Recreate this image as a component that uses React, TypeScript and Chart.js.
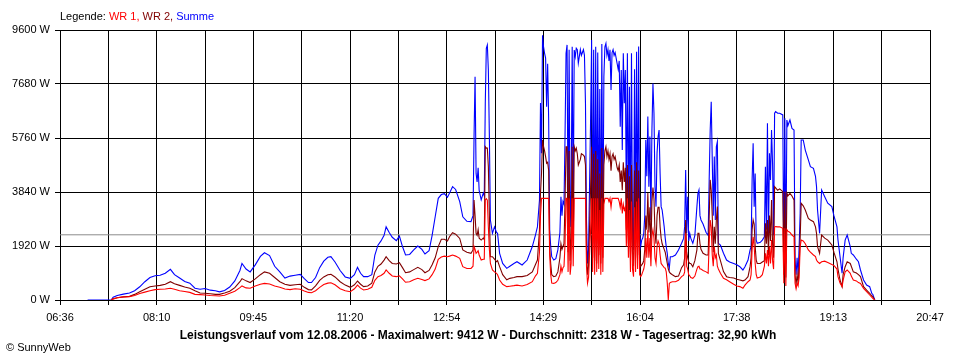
import { useEffect, useRef } from "react";
import { Chart, registerables } from "chart.js";

Chart.register(...registerables);

// time of day in minutes after midnight
const minutes = [
  423, 435, 446, 448, 452, 458, 464, 469, 474, 479, 484, 489, 494, 499, 504, 508, 513, 518, 523, 528,
  533, 538, 543, 548, 552, 557, 562, 567, 572, 574, 578, 582, 587, 592, 596, 601, 606, 611, 616, 621,
  626, 631, 635, 639, 642, 646, 650, 654, 658, 661, 665, 670, 675, 680, 684, 687, 690, 693, 697, 701,
  704, 707, 710, 713, 715, 718, 721, 725, 728, 731, 734, 738, 742, 746, 750, 753, 757, 760, 763, 766,
  769, 772, 775, 777, 780, 783, 787, 790, 794, 798, 800, 801, 802, 803, 804, 805, 806, 808, 810, 811,
  812, 813, 814, 815, 816, 817, 819, 821, 823, 824, 826, 829, 833, 836, 840, 843, 848, 853, 858, 861,
  863, 865, 866, 867, 868, 869, 870, 871, 872, 873, 874, 875, 876, 877, 879, 881, 883, 885, 886, 887,
  888, 889, 890, 891, 892, 893, 894, 895, 896, 897, 898, 899, 900, 901, 902, 903, 905, 906, 908, 909,
  910, 911, 912, 913, 915, 916, 917, 918, 919, 920, 921, 922, 923, 924, 925, 926, 927, 928, 929, 930,
  931, 932, 933, 934, 935, 936, 937, 938, 939, 940, 941, 942, 943, 944, 945, 946, 947, 948, 949, 950,
  951, 952, 953, 954, 955, 956, 957, 958, 959, 960, 961, 962, 963, 964, 965, 966, 967, 968, 969, 970,
  971, 972, 973, 974, 975, 976, 977, 978, 979, 980, 981, 982, 983, 984, 985, 986, 987, 988, 989, 990,
  991, 992, 993, 995, 998, 1001, 1004, 1006, 1007, 1008, 1009, 1010, 1011, 1012, 1013, 1015, 1017, 1019, 1020, 1021,
  1022, 1023, 1025, 1028, 1030, 1031, 1032, 1033, 1034, 1035, 1036, 1037, 1038, 1039, 1040, 1042, 1045, 1048, 1051, 1055,
  1058, 1061, 1064, 1066, 1069, 1071, 1072, 1073, 1074, 1075, 1076, 1077, 1078, 1081, 1083, 1085, 1086, 1087, 1088, 1089,
  1090, 1091, 1092, 1093, 1094, 1095, 1096, 1098, 1100, 1103, 1104, 1105, 1106, 1107, 1108, 1110, 1112, 1114, 1115, 1116,
  1117, 1118, 1119, 1120, 1121, 1123, 1125, 1128, 1130, 1133, 1135, 1136, 1137, 1139, 1141, 1144, 1147, 1151, 1153, 1156,
  1157, 1159, 1161, 1162, 1164, 1166, 1169, 1170, 1172, 1175, 1177, 1179, 1182, 1185, 1188, 1190, 1191, 1193,
];

// Summe (W)
const summe = [
  0, 0, 0, 100, 160, 210, 250, 330, 470, 650, 800, 860, 880, 950, 1090, 900, 780, 660, 600, 420,
  380, 410, 350, 330, 290, 340, 460, 680, 1050, 1300, 1100, 1000, 1250, 1550, 1680, 1580, 1200, 1000, 780, 850,
  880, 910, 760, 620, 620, 800, 1150, 1380, 1520, 1540, 1350, 1050, 820, 770, 900, 1160, 950, 830, 830, 900,
  1600, 1950, 2100, 2300, 2600, 2400, 2230, 2110, 2275, 1900, 1600, 1620, 1780, 1920, 1800, 1635, 1750, 2300, 2960, 3615,
  3750, 3780, 3650, 3800, 4030, 3930, 3500, 2960, 2800, 2785, 3000, 5800, 7940, 4500, 4200, 4700, 3900, 3560, 3800, 3700,
  7000, 8950, 9070, 8180, 5800, 2845, 2370, 2600, 2400, 2370, 1660, 1300, 1125, 1200, 1300, 1360, 1245, 1420, 1900, 2300,
  2600, 3556, 7000, 5215, 9412, 9000, 8770, 8600, 6870, 8400, 6400, 2500, 1900, 1540, 1420, 1470, 1780, 2400, 3670, 3000,
  3500, 3400, 5800, 8770, 9070, 2600, 8900, 2600, 3790, 9000, 3000, 8890, 8650, 8950, 8900, 8420, 8900, 8700, 8900, 8700,
  7000, 2845, 1300, 1800, 6400, 9240, 2000, 8900, 1900, 9000, 2000, 8800, 2400, 7500, 1900, 9100, 2000, 7940, 9000, 9120,
  8700, 8900, 8500, 8900, 7470, 8800, 8900, 8700, 8800, 8600, 8400, 8200, 8500, 6160, 8180, 5330, 8770, 7000, 8180, 3320,
  8770, 2845, 7585, 2250, 8770, 2500, 1780, 8200, 2370, 8830, 2250, 9010, 2370, 1900, 2130, 2200, 2370, 3000, 5690, 4400,
  6520, 4030, 5810, 2845, 6040, 7700, 6640, 4030, 3320, 5215, 5800, 6040, 4500, 3320, 3200, 2900, 2600, 2200, 1900, 1660,
  1300, 1130, 1540, 1540, 1600, 1780, 2015, 2190, 2600, 4620, 2370, 3675, 2100, 2370, 2200, 2015, 2300, 3320, 3790, 3910,
  3000, 2845, 2700, 2400, 2300, 4270, 6045, 7050, 5000, 3000, 5100, 2845, 5450, 5630, 2015, 1950, 1660, 1420, 1350, 1300,
  1250, 1185, 1067, 1185, 1420, 1780, 1900, 4270, 5570, 3320, 4500, 2130, 2015, 2050, 2130, 2250, 4740, 2500, 6280, 2300,
  5215, 4270, 6045, 4860, 2300, 6640, 6700, 6640, 6640, 6580, 1300, 6460, 1300, 6400, 6200, 6400, 6100, 6045, 1420, 900,
  1500, 900, 1900, 3080, 5690, 5690, 5330, 4980, 4740, 4680, 4400, 4030, 3200, 2370, 3910, 3670, 3440, 3320, 3000, 2600,
  2130, 1540, 950, 1500, 2130, 2310, 1900, 1660, 1600, 1450, 1360, 1067, 711, 530, 475, 240, 200, 0,
];

// WR 2 (W)
const wr2 = [
  null, null, 0, 40, 80, 110, 130, 200, 290, 380, 470, 500, 520, 560, 650, 580, 520, 460, 420, 330,
  250, 240, 220, 200, 200, 250, 310, 440, 650, 760, 680, 620, 750, 900, 1000, 950, 800, 650, 560, 520,
  540, 560, 450, 370, 360, 500, 700, 820, 900, 910, 820, 650, 530, 450, 540, 675, 560, 475, 500, 600,
  1000, 1200, 1280, 1420, 1540, 1400, 1300, 1280, 1330, 1150, 970, 1000, 1080, 1160, 1080, 970, 1050, 1250, 1500, 1900,
  2160, 2160, 2100, 2250, 2390, 2340, 2190, 1780, 1700, 1660, 1780, 3556, 3000, 2370, 2300, 2500, 2200, 2130, 2200, 2150,
  5450, 5400, 5400, 4740, 3000, 1540, 1540, 1450, 1360, 1400, 1185, 900, 720, 770, 800, 830, 830, 870, 1000, 1250,
  1420, 2490, 3800, 4500, 5690, 5450, 5300, 5100, 4860, 4900, 4600, 1800, 1300, 900, 830, 850, 1000, 1500, 2000, 1800,
  1900, 2000, 3500, 5450, 5450, 1700, 5300, 1400, 2200, 5450, 1800, 5450, 5300, 5400, 5200, 4800, 5000, 5200, 5150, 5100,
  4800, 1800, 900, 1200, 4000, 5450, 1500, 5200, 1400, 5300, 1300, 5000, 1600, 4500, 1300, 5400, 1500, 4800, 5300, 5450,
  5100, 5300, 5000, 5200, 4600, 5100, 5200, 5000, 5100, 4900, 4700, 4600, 4800, 4200, 4600, 3900, 4900, 4200, 4700, 2500,
  4800, 2000, 4400, 1500, 4800, 1700, 1200, 4600, 1500, 4900, 1600, 4600, 1500, 1200, 1250, 1300, 1400, 1800, 3000, 2500,
  3800, 2400, 3300, 1800, 3500, 4000, 3600, 2400, 2000, 3000, 3300, 3300, 2600, 2200, 2000, 1900, 1800, 1700, 1500, 1300,
  1100, 1000, 950, 900, 830, 850, 1150, 1250, 1500, 2845, 1700, 1500, 1350, 1300, 1300, 1185, 1400, 1780, 2370, 2370,
  2000, 1800, 1660, 1600, 1600, 2960, 4270, 3900, 3000, 1700, 2600, 2000, 2845, 3320, 1660, 1400, 1010, 830, 800, 780,
  740, 711, 680, 711, 830, 1185, 1500, 2500, 2845, 2700, 1900, 1420, 1300, 1300, 1350, 1400, 2730, 2000, 2845, 1600,
  3000, 2100, 3556, 2000, 1500, 4030, 3990, 3900, 3950, 3850, 900, 3850, 800, 3800, 3700, 3790, 3700, 3556, 900, 550,
  900, 600, 1200, 2200, 3440, 3350, 3200, 2900, 2845, 2785, 2600, 2370, 1900, 1660, 2310, 2200, 2130, 1955, 1700, 1360,
  1100, 711, 475, 900, 1185, 1360, 1300, 1200, 1000, 960, 900, 830, 475, 350, 240, 150, 120, 0,
];

// WR 1 (W)
const wr1 = [
  null, null, 0, 40, 80, 110, 120, 160, 230, 280, 330, 370, 380, 390, 420, 380, 330, 300, 270, 200,
  190, 180, 160, 150, 140, 170, 240, 310, 440, 500, 430, 420, 500, 560, 590, 570, 500, 450, 390, 370,
  400, 385, 320, 270, 260, 330, 450, 550, 600, 615, 540, 400, 330, 295, 400, 530, 420, 355, 380, 450,
  700, 830, 870, 950, 1067, 950, 855, 830, 860, 750, 630, 650, 720, 770, 730, 690, 750, 900, 1100, 1450,
  1530, 1560, 1540, 1560, 1600, 1560, 1480, 1185, 1120, 1125, 1200, 1900, 1800, 1660, 1700, 1750, 1600, 1420, 1450, 1450,
  3556, 3600, 3550, 2600, 1800, 1300, 1067, 1000, 950, 900, 710, 560, 475, 490, 510, 530, 500, 550, 650, 850,
  950, 1700, 3000, 3615, 3615, 3615, 3615, 3615, 3615, 3615, 3615, 1600, 900, 600, 590, 620, 700, 900, 1200, 1000,
  1150, 1200, 2000, 3615, 3615, 1000, 3615, 900, 1300, 3615, 1200, 3615, 3615, 3615, 3615, 3615, 3615, 3615, 3615, 3615,
  3615, 1200, 600, 800, 2500, 3615, 1000, 3615, 900, 3615, 1000, 3615, 1100, 3200, 900, 3615, 1000, 3400, 3615, 3615,
  3615, 3615, 3500, 3615, 3300, 3615, 3615, 3615, 3615, 3615, 3615, 3615, 3500, 3300, 3615, 3080, 3400, 3200, 3300, 1900,
  3615, 1500, 3200, 1000, 3500, 1100, 830, 3300, 1000, 3500, 1100, 3615, 900, 830, 900, 1000, 1100, 1300, 2200, 1500,
  2500, 1500, 2200, 1200, 2300, 2500, 2200, 1500, 1300, 1900, 2100, 2000, 1600, 1300, 1250, 1200, 1150, 1130, 1000, 600,
  0, 590, 620, 650, 650, 700, 830, 880, 1000, 2370, 1200, 1100, 900, 860, 800, 770, 850, 1100, 1185, 1200,
  1100, 1100, 1050, 1000, 950, 2000, 2845, 2600, 1600, 1200, 1900, 1500, 1600, 1200, 1100, 950, 770, 720, 650, 560,
  500, 475, 415, 530, 650, 711, 900, 1800, 2250, 1900, 1300, 900, 780, 820, 900, 1200, 1660, 1300, 1780, 1200,
  1900, 1300, 2130, 1400, 1100, 2600, 2610, 2600, 2600, 2550, 600, 2550, 500, 2500, 2450, 2400, 2310, 2250, 600, 400,
  600, 500, 800, 1900, 2130, 2100, 2000, 1780, 1700, 1600, 1540, 1420, 1360, 1300, 1360, 1380, 1330, 1260, 1230, 1100,
  830, 600, 475, 700, 1000, 1067, 950, 850, 711, 680, 620, 590, 415, 300, 178, 100, 60, 0,
];

const average = 2318;
const xMin = 396; // 06:36
const xMax = 1247; // 20:47
const xTickLabels = ["06:36", "08:10", "09:45", "11:20", "12:54", "14:29", "16:04", "17:38", "19:13", "20:47"];
const yTickValues = [0, 1920, 3840, 5760, 7680, 9600];
const legendParts = [
  { text: "Legende: ", color: "#000000" },
  { text: "WR 1, ", color: "#FF0000" },
  { text: "WR 2, ", color: "#800000" },
  { text: "Summe", color: "#0000FF" },
];
const titleText =
  "Leistungsverlauf vom 12.08.2006 - Maximalwert: 9412 W - Durchschnitt: 2318 W - Tagesertrag: 32,90 kWh";
const copyrightText = "\u00A9 SunnyWeb";

const FONT = "'Liberation Sans', Arial, sans-serif";

const textPlugin = {
  id: "sunnyTexts",
  afterDraw(chart: any) {
    const ctx = chart.ctx as CanvasRenderingContext2D;
    ctx.save();
    ctx.textBaseline = "middle";
    ctx.font = `11px ${FONT}`;
    let x = chart.chartArea.left;
    for (const p of legendParts) {
      ctx.fillStyle = p.color;
      ctx.textAlign = "left";
      ctx.fillText(p.text, x, 17);
      x += ctx.measureText(p.text).width;
    }
    ctx.fillStyle = "#000";
    ctx.textAlign = "left";
    ctx.fillText(copyrightText, 6, 348);
    ctx.font = `bold 12px ${FONT}`;
    ctx.textAlign = "center";
    ctx.fillText(titleText, 478, 336);
    ctx.restore();
  },
};

const toPoints = (vals: (number | null)[]) => minutes.map((m, i) => ({ x: m, y: vals[i] }));

export default function App() {
  const ref = useRef<HTMLCanvasElement | null>(null);
  useEffect(() => {
    if (!ref.current) return;
    const chart = new Chart(ref.current, {
      type: "line",
      data: {
        datasets: [
          { label: "WR 1", data: toPoints(wr1), borderColor: "#FF0000", borderWidth: 1.1, pointRadius: 0, tension: 0, fill: false },
          { label: "WR 2", data: toPoints(wr2), borderColor: "#800000", borderWidth: 1.1, pointRadius: 0, tension: 0, fill: false },
          { label: "Summe", data: toPoints(summe), borderColor: "#0000FF", borderWidth: 1.1, pointRadius: 0, tension: 0, fill: false },
          {
            label: "Durchschnitt",
            data: [
              { x: xMin, y: average },
              { x: xMax, y: average },
            ],
            borderColor: "#8C8C8C",
            borderWidth: 1,
            pointRadius: 0,
            fill: false,
          },
        ],
      } as any,
      options: {
        animation: false,
        responsive: false,
        maintainAspectRatio: false,
        layout: { padding: { top: 30, right: 30, left: 0, bottom: 0 } },
        plugins: { legend: { display: false }, tooltip: { enabled: false }, title: { display: false } },
        scales: {
          x: {
            type: "linear",
            min: xMin,
            max: xMax,
            afterBuildTicks: (s: any) => {
              s.ticks = Array.from({ length: 19 }, (_, i) => ({ value: xMin + (i * (xMax - xMin)) / 18 }));
            },
            afterFit: (s: any) => {
              s.height = 60;
            },
            ticks: {
              autoSkip: false,
              maxRotation: 0,
              padding: 6,
              color: "#000",
              font: { family: FONT, size: 11 },
              callback: (_v: any, i: number) => (i % 2 === 0 ? xTickLabels[i / 2] : ""),
            },
            grid: { color: "#000", lineWidth: 1, drawTicks: true, tickLength: 5, tickColor: "#000" },
            border: { color: "#000", width: 1 },
          },
          y: {
            type: "linear",
            min: 0,
            max: 9600,
            afterBuildTicks: (s: any) => {
              s.ticks = yTickValues.map((v) => ({ value: v }));
            },
            afterFit: (s: any) => {
              s.width = 60;
            },
            ticks: {
              padding: 5,
              color: "#000",
              font: { family: FONT, size: 11 },
              callback: (v: any) => `${v} W`,
            },
            grid: { color: "#000", lineWidth: 1, drawTicks: true, tickLength: 5, tickColor: "#000" },
            border: { color: "#000", width: 1 },
          },
        },
      } as any,
      plugins: [textPlugin],
    });
    return () => chart.destroy();
  }, []);
  return (
    <div style={{ position: "fixed", left: 0, top: 0, width: 960, height: 360, background: "#fff" }}>
      <canvas ref={ref} width={960} height={360} style={{ width: 960, height: 360 }} />
    </div>
  );
}
